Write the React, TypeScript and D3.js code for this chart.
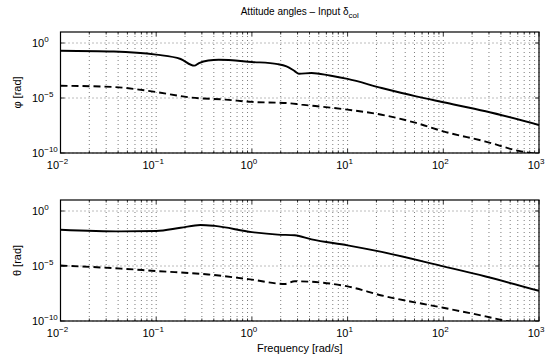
import React from "react";
import * as d3 from "d3";

// frequency [rad/s] and magnitude [rad]
const phiSolidF = [0.01, 0.036, 0.1, 0.18, 0.25, 0.28, 0.35, 0.45, 1, 1.86, 2.3, 2.8, 3.1, 4.2, 6.5, 10, 22.7, 52, 100, 277, 1000];
const phiSolidV = [2.0e-1, 1.7e-1, 8.7e-2, 3.5e-2, 8.7e-3, 1.5e-2, 2.6e-2, 3.0e-2, 1.9e-2, 1.2e-2, 7.6e-3, 2.8e-3, 1.6e-3, 1.9e-3, 1.1e-3, 5.4e-4, 8.1e-5, 1.4e-5, 4.1e-6, 6.2e-7, 3.5e-8];

const phiDashF = [0.01, 0.036, 0.066, 0.1, 0.23, 0.53, 1, 2.3, 3.3, 10, 22.7, 52, 100, 277, 650, 1000];
const phiDashV = [1.3e-4, 1.0e-4, 5.8e-5, 3.5e-5, 1.1e-5, 7.1e-6, 4.4e-6, 3.5e-6, 2.5e-6, 8.7e-7, 3.0e-7, 5.4e-8, 9.3e-9, 1.1e-9, 1.4e-10, 8e-11];

const thetaSolidF = [0.01, 0.043, 0.1, 0.18, 0.29, 0.41, 1, 1.86, 2.8, 4.2, 10, 22.7, 100, 277, 1000];
const thetaSolidV = [2.0e-2, 1.4e-2, 1.5e-2, 3.0e-2, 5.4e-2, 4.4e-2, 1.2e-2, 7.1e-3, 6.2e-3, 2.6e-3, 7.6e-4, 1.9e-4, 9.3e-6, 1.1e-6, 5.5e-8];

const thetaDashF = [0.01, 0.043, 0.1, 0.35, 1, 2.2, 2.8, 10, 22.7, 100, 277, 430, 1000];
const thetaDashV = [1.1e-5, 5.8e-6, 3.5e-6, 1.7e-6, 5.8e-7, 2.3e-7, 4.1e-7, 1.4e-7, 2.1e-8, 1.6e-9, 2.6e-10, 1.1e-10, 2.5e-11];

const xTickExps = [-2, -1, 0, 1, 2, 3];
const yTickExps = [-10, -5, 0];

const W = 546;
const H = 359;
const left = 60.5;
const right = 539;
const font = "'Liberation Sans', Arial, Helvetica, sans-serif";

const x = d3.scaleLog().domain([1e-2, 1e3]).range([left, right]);

const minorTicks: number[] = [];
for (let e = -2; e < 3; e++) {
  for (let k = 1; k <= 9; k++) minorTicks.push(k * Math.pow(10, e));
}
minorTicks.push(1e3);

type PanelProps = {
  top: number;
  bottom: number;
  label: string;
  solidF: number[];
  solidV: number[];
  dashF: number[];
  dashV: number[];
  id: string;
};

const Pow = ({ x0, y0, exp, anchor }: { x0: number; y0: number; exp: number; anchor: string }) => (
  <text x={x0} y={y0} fontSize={11} fontFamily={font} textAnchor={anchor}>
    10
    <tspan dy={-5} fontSize={8}>
      {exp < 0 ? "\u2212" + Math.abs(exp) : String(exp)}
    </tspan>
  </text>
);

const Panel = ({ top, bottom, label, solidF, solidV, dashF, dashV, id }: PanelProps) => {
  const y = d3.scaleLog().domain([1e-10, 1e1]).range([bottom, top]);
  const line = d3
    .line<[number, number]>()
    .x((d) => x(d[0]))
    .y((d) => y(d[1]))
    .curve(d3.curveMonotoneX);
  const solid = line(solidF.map((f, i) => [f, solidV[i]]) as [number, number][]) || "";
  const dash = line(dashF.map((f, i) => [f, dashV[i]]) as [number, number][]) || "";
  const mid = (top + bottom) / 2;
  return (
    <g>
      <defs>
        <clipPath id={id}>
          <rect x={left} y={top} width={right - left} height={bottom - top} />
        </clipPath>
      </defs>
      {/* grid */}
      {minorTicks.map((t, i) => (
        <line key={"gx" + i} x1={x(t)} x2={x(t)} y1={top} y2={bottom} stroke="#444" strokeWidth={0.7} strokeDasharray="1,3" />
      ))}
      {yTickExps.map((e) => (
        <line key={"gy" + e} x1={left} x2={right} y1={y(Math.pow(10, e))} y2={y(Math.pow(10, e))} stroke="#444" strokeWidth={0.7} strokeDasharray="1,3" />
      ))}
      {/* ticks */}
      {minorTicks.map((t, i) => {
        const major = xTickExps.some((e) => Math.abs(Math.pow(10, e) - t) < 1e-9 * t);
        const len = major ? 4 : 2.5;
        return (
          <g key={"tx" + i} stroke="#000" strokeWidth={0.8}>
            <line x1={x(t)} x2={x(t)} y1={bottom} y2={bottom - len} />
            <line x1={x(t)} x2={x(t)} y1={top} y2={top + len} />
          </g>
        );
      })}
      {yTickExps.map((e) => (
        <g key={"ty" + e} stroke="#000" strokeWidth={0.8}>
          <line x1={left} x2={left + 4} y1={y(Math.pow(10, e))} y2={y(Math.pow(10, e))} />
          <line x1={right} x2={right - 4} y1={y(Math.pow(10, e))} y2={y(Math.pow(10, e))} />
        </g>
      ))}
      {/* curves */}
      <g clipPath={`url(#${id})`} fill="none" stroke="#000" strokeWidth={1.9}>
        <path d={solid} />
        <path d={dash} strokeDasharray="7,4" />
      </g>
      <rect x={left} y={top} width={right - left} height={bottom - top} fill="none" stroke="#000" strokeWidth={1.2} />
      {/* tick labels */}
      {yTickExps.map((e) => (
        <Pow key={"ly" + e} x0={32} y0={y(Math.pow(10, e)) + 4} exp={e} anchor="start" />
      ))}
      {xTickExps.map((e) => (
        <Pow key={"lx" + e} x0={x(Math.pow(10, e)) - 3} y0={bottom + 16} exp={e} anchor="middle" />
      ))}
      <text
        transform={`translate(21,${mid}) rotate(-90)`}
        textAnchor="middle"
        fontSize={11}
        fontFamily={font}
      >
        {label}
      </text>
    </g>
  );
};

export default function App() {
  const cx = (left + right) / 2;
  return (
    <svg width={W} height={H} style={{ position: "absolute", left: 0, top: 0, background: "#fff" }}>
      <text x={cx} y={15} textAnchor="middle" fontSize={10} fontFamily={font}>
        Attitude angles – Input δ
        <tspan dy={3} fontSize={8}>col</tspan>
      </text>
      <Panel top={32} bottom={153} label="φ [rad]" solidF={phiSolidF} solidV={phiSolidV} dashF={phiDashF} dashV={phiDashV} id="c1" />
      <Panel top={200} bottom={321} label="θ [rad]" solidF={thetaSolidF} solidV={thetaSolidV} dashF={thetaDashF} dashV={thetaDashV} id="c2" />
      <text x={cx} y={352} textAnchor="middle" fontSize={11} fontFamily={font}>
        Frequency [rad/s]
      </text>
    </svg>
  );
}
